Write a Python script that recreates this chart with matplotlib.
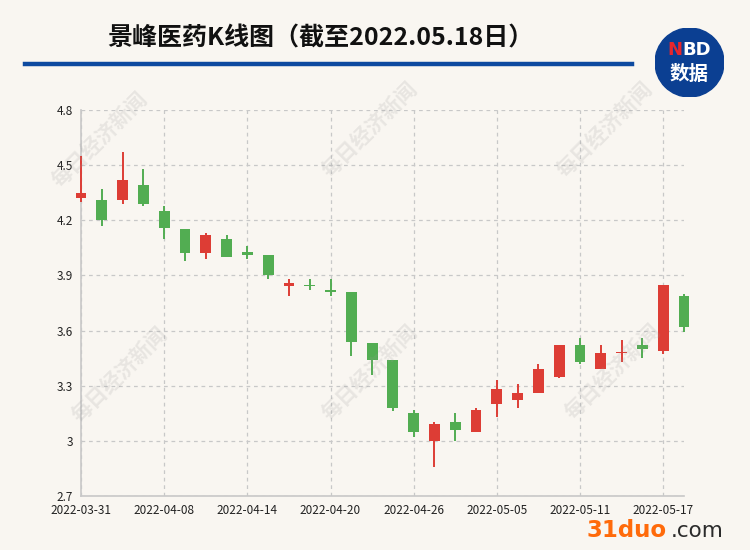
import matplotlib
matplotlib.use("Agg")
import matplotlib.pyplot as plt
from matplotlib.patches import Circle

plt.rcParams['font.family'] = ['Noto Sans CJK SC', 'DejaVu Sans']

dates = ['2022-03-31', '2022-04-01', '2022-04-06', '2022-04-07', '2022-04-08',
         '2022-04-11', '2022-04-12', '2022-04-13', '2022-04-14', '2022-04-15',
         '2022-04-18', '2022-04-19', '2022-04-20', '2022-04-21', '2022-04-22',
         '2022-04-25', '2022-04-26', '2022-04-27', '2022-04-28', '2022-04-29',
         '2022-05-05', '2022-05-06', '2022-05-09', '2022-05-10', '2022-05-11',
         '2022-05-12', '2022-05-13', '2022-05-16', '2022-05-17', '2022-05-18']
opens = [4.32, 4.31, 4.31, 4.39, 4.25, 4.15, 4.02, 4.10, 4.03, 4.01,
         3.84, 3.845, 3.82, 3.81, 3.53, 3.44, 3.15, 3.00, 3.10, 3.05,
         3.20, 3.22, 3.26, 3.35, 3.52, 3.39, 3.478, 3.52, 3.49, 3.79]
closes = [4.35, 4.20, 4.42, 4.29, 4.16, 4.02, 4.12, 4.00, 4.01, 3.90,
          3.86, 3.84, 3.81, 3.54, 3.44, 3.18, 3.05, 3.09, 3.06, 3.17,
          3.28, 3.26, 3.39, 3.52, 3.43, 3.48, 3.485, 3.50, 3.85, 3.62]
highs = [4.55, 4.37, 4.57, 4.48, 4.28, 4.15, 4.13, 4.12, 4.06, 4.01,
         3.88, 3.88, 3.88, 3.81, 3.53, 3.44, 3.17, 3.10, 3.15, 3.18,
         3.33, 3.31, 3.42, 3.52, 3.56, 3.52, 3.55, 3.56, 3.85, 3.80]
lows = [4.30, 4.17, 4.29, 4.28, 4.10, 3.98, 3.99, 4.00, 3.99, 3.88,
        3.79, 3.82, 3.79, 3.46, 3.36, 3.16, 3.02, 2.86, 3.00, 3.05,
        3.13, 3.18, 3.26, 3.34, 3.42, 3.39, 3.43, 3.45, 3.47, 3.59]

red = '#dd3d35'
green = '#52ad52'
bg = '#f9f6f1'

fig = plt.figure(figsize=(7.5, 5.5), dpi=100, facecolor=bg)
ax = fig.add_axes([81 / 750, 1 - 496 / 550, 603 / 750, 386 / 550], facecolor=bg)

x = list(range(len(dates)))
colors = [red if c >= o else green for o, c in zip(opens, closes)]
bottoms = [min(o, c) for o, c in zip(opens, closes)]
heights = [max(abs(c - o), 0.006) for o, c in zip(opens, closes)]

ax.vlines(x, lows, highs, colors=colors, linewidth=1.4, zorder=3, clip_on=False)
ax.bar(x, heights, bottom=bottoms, width=0.52, color=colors, zorder=4, clip_on=False)

ax.set_xlim(0, len(dates) - 1)
ax.set_ylim(2.7, 4.8)
yt = [2.7, 3.0, 3.3, 3.6, 3.9, 4.2, 4.5, 4.8]
ax.set_yticks(yt)
ax.set_yticklabels(['%g' % v for v in yt])
ax.set_xticks(x[::4])
ax.set_xticklabels(dates[::4])
ax.tick_params(length=0, labelsize=8.5, colors='#222222')
ax.tick_params(axis='x', pad=6)
ax.tick_params(axis='y', pad=6)
ax.grid(True, linestyle=(0, (3, 3)), color='#c8c8c8', linewidth=0.9)
for s in ['top', 'right']:
    ax.spines[s].set_visible(False)
for s in ['left', 'bottom']:
    ax.spines[s].set_color('#c8c8c8')
    ax.spines[s].set_linewidth(1.2)

# watermarks
for wx, wy in [(100, 140), (370, 130), (605, 130), (120, 375), (370, 373), (613, 372)]:
    fig.text(wx / 750, 1 - wy / 550, '每日经济新闻', fontsize=15, color='#9a9a9a',
             alpha=0.18, rotation=45, ha='center', va='center', fontweight='bold', zorder=0)

# title and rule
fig.text(320 / 750, 1 - 38 / 550, '景峰医药K线图（截至2022.05.18日）', fontsize=18,
         fontweight='bold', ha='center', va='center', color='#111111')
fig.add_artist(plt.Line2D([25 / 750, 632 / 750], [1 - 64 / 550, 1 - 64 / 550],
                          color='#0d4aa0', linewidth=3.2))

# NBD logo
lax = fig.add_axes([655 / 750, 1 - 97 / 550, 69 / 750, 69 / 550])
lax.set_xlim(0, 1)
lax.set_ylim(0, 1)
lax.axis('off')
lax.add_patch(Circle((0.5, 0.5), 0.5, color='#0b3f92'))
lax.text(0.29, 0.68, 'N', color='#e8262c', fontsize=13, fontweight='bold',
         ha='center', va='center', family='DejaVu Sans')
lax.text(0.6, 0.68, 'BD', color='white', fontsize=13, fontweight='bold',
         ha='center', va='center', family='DejaVu Sans')
lax.text(0.5, 0.33, '数据', color='white', fontsize=14, fontweight='bold',
         ha='center', va='center')

# site watermark
fig.text(587 / 750, 1 - 537 / 550, '31duo', fontsize=16.5, fontweight='bold',
         color='#ff6a0a', ha='left', va='baseline', family='DejaVu Sans')
fig.text(671 / 750, 1 - 537 / 550, '.com', fontsize=15.5, color='#2b2b2b',
         ha='left', va='baseline', family='DejaVu Sans')

fig.savefig('out.png', dpi=100, facecolor=bg)
